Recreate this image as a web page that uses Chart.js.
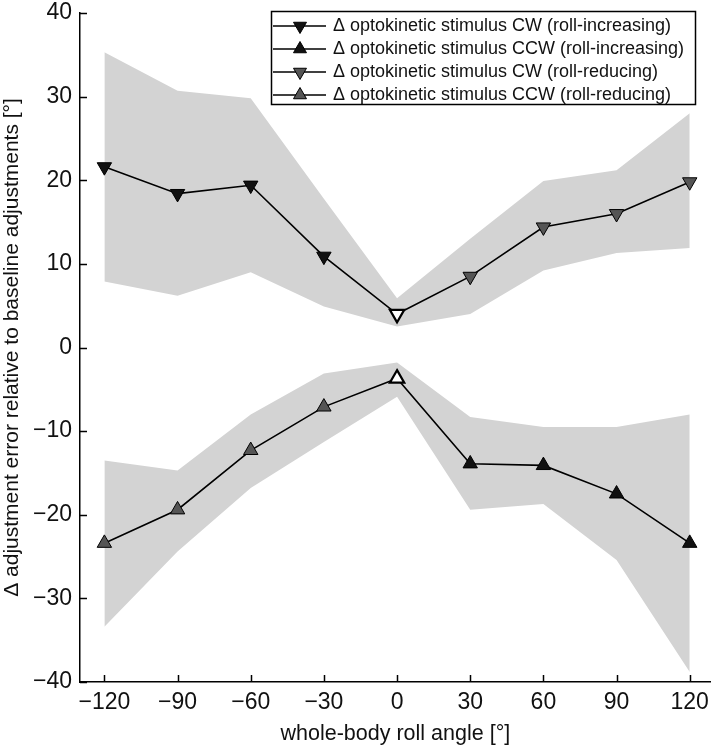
<!DOCTYPE html>
<html><head><meta charset="utf-8">
<script src="https://cdn.jsdelivr.net/npm/chart.js@4/dist/chart.umd.min.js"></script>
<style>html,body{margin:0;padding:0;background:#fff}#wrap{width:720px;height:748px;position:relative}</style>
</head><body><div id="wrap"><canvas id="c" width="720" height="748"></canvas></div>
<script>
// ---- data ----
const rollAngles = [-120, -90, -60, -30, 0, 30, 60, 90, 120];
const cwMean   = [21.6, 18.4, 19.4, 10.9, 4.0, 8.5, 14.4, 16.0, 19.8];
const cwUpper  = [35.3, 30.7, 29.8, 17.8, 5.9, 13.0, 19.9, 21.2, 28.0];
const cwLower  = [7.9, 6.2, 9.0, 4.9, 2.5, 4.0, 9.2, 11.3, 11.9];
const ccwMean  = [-23.4, -19.4, -12.3, -7.1, -3.7, -13.9, -14.1, -17.5, -23.4];
const ccwUpper = [-13.5, -14.7, -8.0, -3.1, -1.8, -8.3, -9.5, -9.5, -8.0];
const ccwLower = [-33.4, -24.4, -16.8, -11.3, -5.9, -19.4, -18.7, -25.4, -38.8];
// condition of each point: inc = roll-increasing, red = roll-reducing, base = 0°
const cwGroup  = ['inc','inc','inc','inc','base','red','red','red','red'];
const ccwGroup = ['red','red','red','red','base','inc','inc','inc','inc'];
const xTickValues = [-120, -90, -60, -30, 0, 30, 60, 90, 120];
const yTickValues = [-40, -30, -20, -10, 0, 10, 20, 30, 40];
const legendLabels = [
  '\u0394 optokinetic stimulus CW (roll-increasing)',
  '\u0394 optokinetic stimulus CCW (roll-increasing)',
  '\u0394 optokinetic stimulus CW (roll-reducing)',
  '\u0394 optokinetic stimulus CCW (roll-reducing)'
];
const legendDirection = ['down', 'up', 'down', 'up'];
const legendGroup = ['inc', 'inc', 'red', 'red'];
const xTitle = 'whole-body roll angle [\u00b0]';
const yTitle = '\u0394 adjustment error relative to baseline adjustments [\u00b0]';

// ---- styles ----
const groupFill = {inc: '#111111', red: '#555555', base: '#ffffff'};
const groupBorderW = {inc: 1, red: 1, base: 2.2};
const bandColor = '#d3d3d3';
const FONT = '"Liberation Sans", Arial, Helvetica, sans-serif';

function pts(ys) { return rollAngles.map((x, i) => ({x: x, y: ys[i]})); }
function fmt(v) { return v < 0 ? '\u2212' + Math.abs(v) : String(v); }

function legendIcon(dir, fill) {
  const c = document.createElement('canvas');
  c.width = 58; c.height = 18;
  const g = c.getContext('2d');
  g.strokeStyle = '#000'; g.lineWidth = 1.4;
  g.beginPath(); g.moveTo(3, 9); g.lineTo(56, 9); g.stroke();
  const cx = 30, cy = 9, r = 7.5;
  const s = dir === 'up' ? 1 : -1;
  g.beginPath();
  g.moveTo(cx, cy - s * r);
  g.lineTo(cx + r * 0.866, cy + s * r * 0.5);
  g.lineTo(cx - r * 0.866, cy + s * r * 0.5);
  g.closePath();
  g.fillStyle = fill; g.fill();
  g.lineWidth = 1; g.stroke();
  return c;
}
const legendIcons = legendLabels.map((t, i) => legendIcon(legendDirection[i], groupFill[legendGroup[i]]));

const lineBase = {
  borderColor: '#000', borderWidth: 1.6, fill: false, tension: 0,
  pointStyle: 'triangle', pointRadius: 8.3, pointHoverRadius: 8.3,
  pointBorderColor: '#000', order: 0
};
const bandBase = {pointRadius: 0, borderWidth: 0, borderColor: 'rgba(0,0,0,0)', tension: 0, order: 5};

const tickPlugin = {
  id: 'inwardTicks',
  afterLayout(chart) {
    const lg = chart.legend;
    if (!lg) return;
    const p = lg.options.labels.padding;
    lg.left = 274 - p;
    lg.top = 12;
    lg.right = lg.left + 430;
    lg.bottom = lg.top + 200;
  },
  afterDraw(chart) {
    const ctx = chart.ctx, xs = chart.scales.x, ys = chart.scales.y, a = chart.chartArea;
    ctx.save();
    ctx.strokeStyle = '#000'; ctx.lineWidth = 1.5;
    ctx.beginPath();
    xTickValues.forEach(v => { const px = Math.round(xs.getPixelForValue(v)) + 0.5; ctx.moveTo(px, a.bottom); ctx.lineTo(px, a.bottom - 7); });
    yTickValues.forEach(v => { const py = Math.round(ys.getPixelForValue(v)) + 0.5; ctx.moveTo(a.left, py); ctx.lineTo(a.left + 7, py); });
    ctx.stroke();
    // legend frame
    ctx.lineWidth = 1.5;
    ctx.strokeRect(271.5, 11.5, 424, 93);
    ctx.restore();
  }
};

new Chart(document.getElementById('c'), {
  type: 'line',
  data: {
    datasets: [
      Object.assign({}, bandBase, {label: 'cw lower', data: pts(cwLower), fill: false}),
      Object.assign({}, bandBase, {label: 'cw upper', data: pts(cwUpper), fill: '-1', backgroundColor: bandColor}),
      Object.assign({}, bandBase, {label: 'ccw lower', data: pts(ccwLower), fill: false}),
      Object.assign({}, bandBase, {label: 'ccw upper', data: pts(ccwUpper), fill: '-1', backgroundColor: bandColor}),
      Object.assign({}, lineBase, {label: 'CW', data: pts(cwMean), pointRotation: 180,
        pointBackgroundColor: cwGroup.map(g => groupFill[g]), pointBorderWidth: cwGroup.map(g => groupBorderW[g])}),
      Object.assign({}, lineBase, {label: 'CCW', data: pts(ccwMean), pointRotation: 0,
        pointBackgroundColor: ccwGroup.map(g => groupFill[g]), pointBorderWidth: ccwGroup.map(g => groupBorderW[g])})
    ]
  },
  options: {
    responsive: false, animation: false, devicePixelRatio: 1,
    layout: {padding: {top: 13, right: 0, left: 0, bottom: 0}},
    plugins: {
      tooltip: {enabled: false},
      legend: {
        position: 'chartArea', align: 'start',
        labels: {
          usePointStyle: true, pointStyleWidth: 50, padding: 5,
          font: {family: FONT, size: 18}, color: '#111',
          generateLabels: () => legendLabels.map((t, i) => ({
            text: t, pointStyle: legendIcons[i], rotation: 0, datasetIndex: i,
            fillStyle: '#000', strokeStyle: '#000', lineWidth: 0, hidden: false, fontColor: '#111'
          }))
        }
      }
    },
    scales: {
      x: {
        type: 'linear', min: -130, max: 128.6,
        afterBuildTicks: s => { s.ticks = xTickValues.map(v => ({value: v})); },
        afterFit: s => { s.height = 66; s.paddingLeft = 0; s.paddingRight = 0; },
        grid: {display: false, drawTicks: false},
        border: {display: true, color: '#000', width: 1.5},
        ticks: {callback: v => fmt(v), font: {family: FONT, size: 23}, color: '#111', padding: 7, maxRotation: 0, autoSkip: false},
        title: {display: true, text: xTitle, font: {family: FONT, size: 21.5}, color: '#111', padding: {top: 0, bottom: 1}}
      },
      y: {
        type: 'linear', min: -40, max: 40,
        afterBuildTicks: s => { s.ticks = yTickValues.map(v => ({value: v})); },
        afterFit: s => { s.width = 80; s.paddingTop = 0; s.paddingBottom = 0; },
        grid: {display: false, drawTicks: false},
        border: {display: true, color: '#000', width: 1.5},
        ticks: {callback: v => fmt(v), font: {family: FONT, size: 23}, color: '#111', padding: 8, autoSkip: false},
        title: {display: true, text: yTitle, font: {family: FONT, size: 21}, color: '#111', padding: {top: 0, bottom: 0}}
      }
    }
  },
  plugins: [tickPlugin]
});
</script></body></html>
